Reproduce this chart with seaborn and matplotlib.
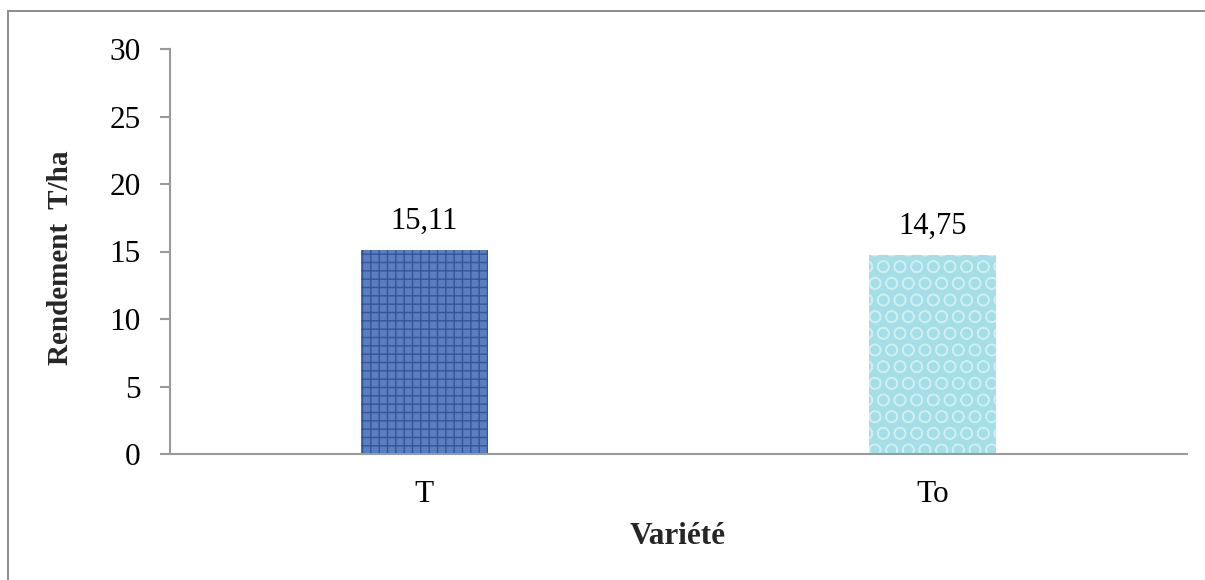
import matplotlib
matplotlib.use("Agg")
import matplotlib.pyplot as plt
import seaborn as sns
import pandas as pd
from matplotlib.patches import Rectangle

# Data
varietes = ["T", "To"]
rendement = [15.11, 14.75]
value_labels = ["15,11", "14,75"]
yticks = [0, 5, 10, 15, 20, 25, 30]
bar_colors = ["#5a7ec0", "#a6dee8"]
hatch_colors = ["#34559a", "#cdeff4"]
hatches = ["++", "O"]

sns.set_theme(style="white")
plt.rcParams['font.family'] = ['Liberation Serif', 'DejaVu Serif']
plt.rcParams['hatch.linewidth'] = 1.0

W, H = 1205, 580
fig = plt.figure(figsize=(W / 100, H / 100), dpi=100)
fig.patch.set_facecolor("white")

# outer border (partially cut off at right / bottom)
fig.add_artist(Rectangle((8 / W, -0.1), 1.2, 1 - 11 / H + 0.1,
                         transform=fig.transFigure, fill=False,
                         edgecolor="#8c8c8c", linewidth=1.4))

ax = fig.add_axes([170 / W, 1 - 454 / H, 1017 / W, (454 - 49) / H])
df = pd.DataFrame({"Variété": varietes, "Rendement": rendement})
sns.barplot(data=df, x="Variété", y="Rendement", hue="Variété",
            palette=bar_colors, width=0.25, legend=False, ax=ax,
            saturation=1)

for patch, hc, h in zip(ax.patches, hatch_colors, hatches):
    patch.set_hatch(h)
    patch.set_edgecolor(hc)
    patch.set_linewidth(0)

for i, (v, lab) in enumerate(zip(rendement, value_labels)):
    ax.annotate(lab, xy=(i, v), xytext=(0, 10), textcoords="offset points",
                ha="center", va="bottom", fontsize=22, color="black")

ax.set_xlim(-0.5, 1.5)
ax.set_ylim(0, 30)
ax.set_yticks(yticks)
ax.set_yticklabels([str(t) for t in yticks])

for s in ["top", "right"]:
    ax.spines[s].set_visible(False)
for s in ["left", "bottom"]:
    ax.spines[s].set_color("#9a9a9a")
    ax.spines[s].set_linewidth(1.5)

ax.tick_params(axis="y", which="both", left=True, direction="out", length=7.2,
               width=1.5, color="#9a9a9a", pad=14, labelsize=22.5,
               labelcolor="black")
ax.tick_params(axis="x", length=0, pad=19, labelsize=22.5, labelcolor="black")

ax.set_xlabel("")
ax.set_ylabel("")
fig.text(678 / W, 1 - 536 / H, "Variété", ha="center", va="center",
         fontsize=22.5, fontweight="bold")
fig.text(61 / W, 1 - 258 / H, "Rendement  T/ha", ha="center", va="center",
         rotation=90, fontsize=21, fontweight="bold")

fig.savefig("out.png", dpi=100, facecolor="white")
